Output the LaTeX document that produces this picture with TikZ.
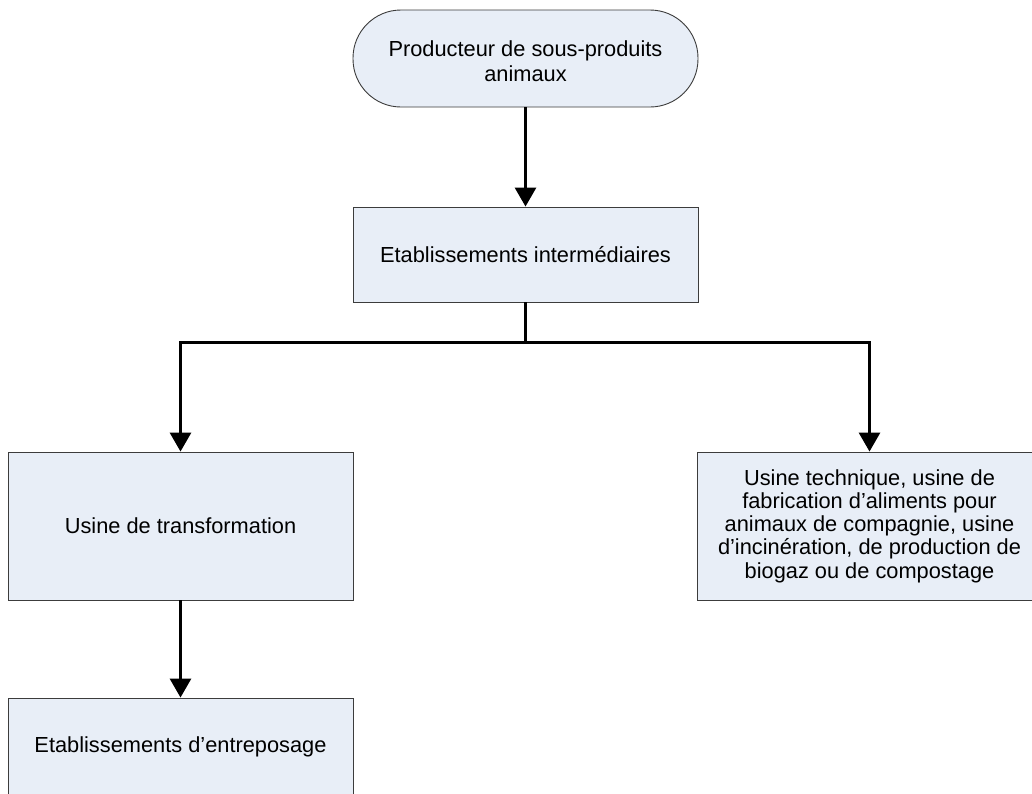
\documentclass[tikz,border=0pt]{standalone}
\usepackage{fontspec}
\setmainfont{Liberation Sans}
\usetikzlibrary{arrows.meta}
\definecolor{boxfill}{RGB}{232,238,247}
\definecolor{boxline}{RGB}{60,60,60}
\begin{document}
\begin{tikzpicture}[x=1pt,y=-1pt,
  box/.style={draw=boxline,line width=0.9pt,fill=boxfill,minimum width=345pt,align=center,
    font=\fontsize{21.8}{25}\selectfont,inner sep=0pt},
  densebox/.style={box,font=\fontsize{21.8}{23.3}\selectfont},
  term/.style={box,rounded corners=48pt,minimum height=97pt},
  flow/.style={line width=3pt,-{Triangle[width=21pt,length=19pt]}},
  seg/.style={line width=3pt}]
\useasboundingbox (0,0) rectangle (1032,793);
\clip (0,0) rectangle (1032,793);
\fill[white] (0,0) rectangle (1032,793);
\node[term] (prod) at (525.5,58.5) {};
\node at (525.5,61) [font=\fontsize{21.8}{25}\selectfont,align=center] (prodtext) {Producteur de sous-produits\\animaux};
\node[box,minimum height=95pt] (inter) at (525.5,254.5) {Etablissements intermédiaires};
\node[box,minimum height=148pt] (transf) at (180.5,526) {Usine de transformation};
\node[densebox,minimum height=148pt] (tech) at (869.5,526) {Usine technique, usine de\\fabrication d’aliments pour\\animaux de compagnie, usine\\d’incinération, de production de\\biogaz ou de compostage};
\node[box,minimum height=98pt] (entre) at (180.5,747) {Etablissements d’entreposage};
\coordinate (split) at (525.5,342);
\coordinate (jl) at (180.5,342);
\coordinate (jr) at (869.5,342);
\draw[flow] (prod.south) -- (inter.north);
\draw[seg] (inter.south) -- (split);
\draw[seg,line cap=rect] (jl) -- (jr);
\draw[flow] (jl) -- (transf.north);
\draw[flow] (jr) -- (tech.north);
\draw[flow] (transf.south) -- (entre.north);
\end{tikzpicture}
\end{document}
